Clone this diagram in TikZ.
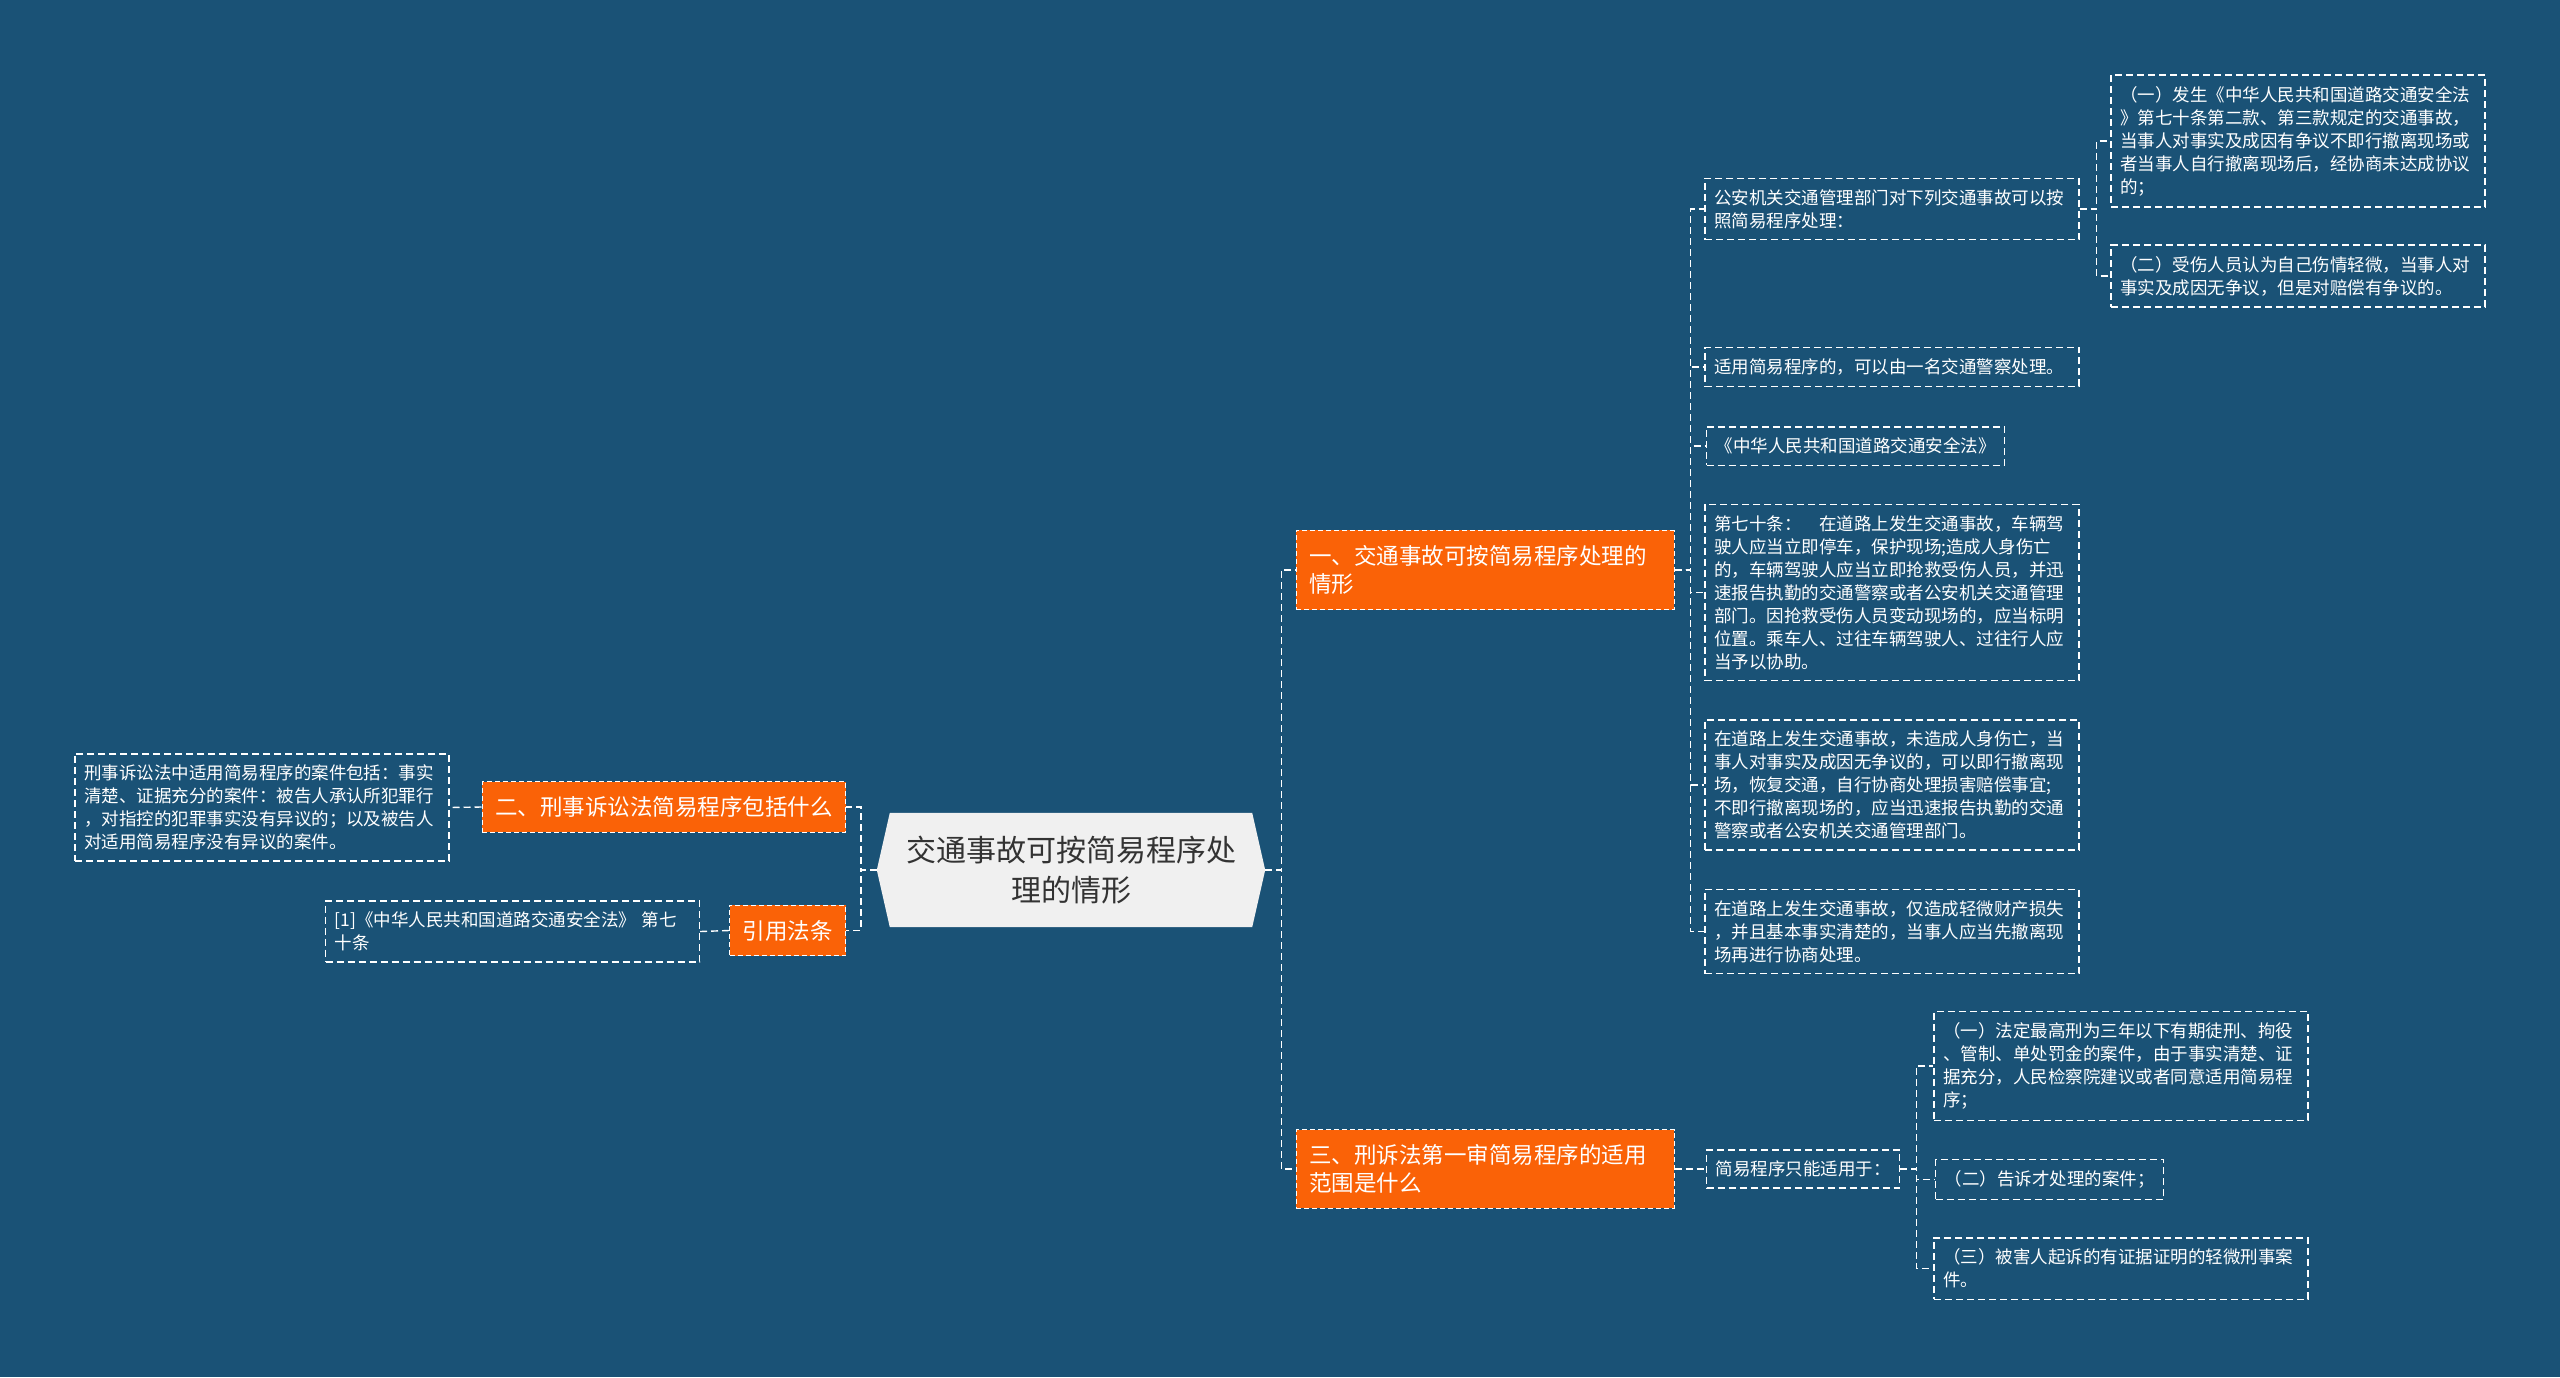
\documentclass[tikz,border=0pt]{standalone}
\usepackage{fontspec}
\usepackage{tikz}
\usetikzlibrary{backgrounds,calc}
\newfontfamily\cjk{Noto Sans CJK SC}
\definecolor{board}{HTML}{1A5276}
\definecolor{flame}{HTML}{FA6207}
\definecolor{paper}{HTML}{F0F0F0}
\definecolor{ink}{HTML}{333333}
\tikzset{
  link/.style={draw=white,line width=1.4pt,dash pattern=on 7pt off 4pt},
  leaf/.style={draw=white,line width=1.4pt,dash pattern=on 7pt off 4pt,text=white,align=left,inner xsep=9pt,inner ysep=11pt,font=\cjk\fontsize{17.5}{23}\selectfont},
  wide/.style={leaf,text width=356pt},
  topic/.style={fill=flame,draw=white,line width=1pt,dash pattern=on 5pt off 3pt,text=white,align=left,inner xsep=13pt,inner ysep=15pt,font=\cjk\fontsize{22.5}{28}\selectfont},
  root/.style={minimum width=362pt,minimum height=114pt,inner sep=0pt,text=ink,align=center,font=\cjk\fontsize{30}{40}\selectfont}
}
\begin{document}
\begin{tikzpicture}[x=1pt,y=-1pt]
\useasboundingbox (0,0) rectangle (2560,1377);

\node[root] (root) at (1071,870) {交通事故可按简易程序处\\理的情形};
\coordinate (root-e) at ($(root.east)+(13,0)$);
\coordinate (root-w) at ($(root.west)+(-13,0)$);
\begin{scope}[on background layer]
\fill[board] (0,0) rectangle (2560,1377);
\fill[paper] (root.north west) -- (root.north east) -- (root-e) -- (root.south east) -- (root.south west) -- (root-w) -- cycle;
\end{scope}

% right side
\node[topic,text width=352pt] (traffic) at (1485,570) {一、交通事故可按简易程序处理的\\情形};
\node[topic,text width=352pt] (range) at (1485,1169) {三、刑诉法第一审简易程序的适用\\范围是什么};

\node[wide] (fact) at (1892,209) {公安机关交通管理部门对下列交通事故可以按\\照简易程序处理：};
\node[wide] (police) at (1892,367) {适用简易程序的，可以由一名交通警察处理。};
\node[leaf,anchor=west] (lawname) at (1706,446) {《中华人民共和国道路交通安全法》};
\node[wide] (art70) at (1892,592.5) {第七十条：　在道路上发生交通事故，车辆驾\\驶人应当立即停车，保护现场;造成人身伤亡\\的，车辆驾驶人应当立即抢救受伤人员，并迅\\速报告执勤的交通警察或者公安机关交通管理\\部门。因抢救受伤人员变动现场的，应当标明\\位置。乘车人、过往车辆驾驶人、过往行人应\\当予以协助。};
\node[wide] (noinjury) at (1892,785) {在道路上发生交通事故，未造成人身伤亡，当\\事人对事实及成因无争议的，可以即行撤离现\\场，恢复交通，自行协商处理损害赔偿事宜;\\不即行撤离现场的，应当迅速报告执勤的交通\\警察或者公安机关交通管理部门。};
\node[wide] (minor) at (1892,931.5) {在道路上发生交通事故，仅造成轻微财产损失\\，并且基本事实清楚的，当事人应当先撤离现\\场再进行协商处理。};

\node[wide] (dispute) at (2298,141) {（一）发生《中华人民共和国道路交通安全法\\》第七十条第二款、第三款规定的交通事故，\\当事人对事实及成因有争议不即行撤离现场或\\者当事人自行撤离现场后，经协商未达成协议\\的；};
\node[wide] (nodispute) at (2298,276) {（二）受伤人员认为自己伤情轻微，当事人对\\事实及成因无争议，但是对赔偿有争议的。};

\node[leaf,anchor=west] (onlyfor) at (1706,1169) {简易程序只能适用于：};
\node[wide] (crimeone) at (2121,1066) {（一）法定最高刑为三年以下有期徒刑、拘役\\、管制、单处罚金的案件，由于事实清楚、证\\据充分，人民检察院建议或者同意适用简易程\\序；};
\node[leaf,anchor=west] (crimetwo) at (1935,1179.5) {（二）告诉才处理的案件；};
\node[wide] (crimethree) at (2121,1268.5) {（三）被害人起诉的有证据证明的轻微刑事案\\件。};

% left side
\node[topic,anchor=east] (criminal) at (846,807) {二、刑事诉讼法简易程序包括什么};
\node[wide] (criminaltext) at (262,807.5) {刑事诉讼法中适用简易程序的案件包括：事实\\清楚、证据充分的案件：被告人承认所犯罪行\\，对指控的犯罪事实没有异议的；以及被告人\\对适用简易程序没有异议的案件。};
\node[topic,anchor=east] (cite) at (846,930.5) {引用法条};
\node[wide] (citetext) at (512.5,931.5) {[1]《中华人民共和国道路交通安全法》 第七\\十条};

% connectors
\foreach \kid in {traffic,range}
  \draw[link] (root-e) -- ++(16,0) |- (\kid.west);
\foreach \kid in {criminal,cite}
  \draw[link] (root-w) -- ++(-16,0) |- (\kid.east);
\foreach \kid in {fact,police,lawname,art70,noinjury,minor}
  \draw[link] (traffic.east) -- ++(16,0) |- (\kid.west);
\foreach \kid in {dispute,nodispute}
  \draw[link] (fact.east) -- ++(17,0) |- (\kid.west);
\draw[link] (range.east) -- (onlyfor.west);
\foreach \kid in {crimeone,crimetwo,crimethree}
  \draw[link] (onlyfor.east) -- ++(16,0) |- (\kid.west);
\draw[link] (criminal.west) -- (criminaltext.east);
\draw[link] (cite.west) -- (citetext.east);
\end{tikzpicture}
\end{document}
